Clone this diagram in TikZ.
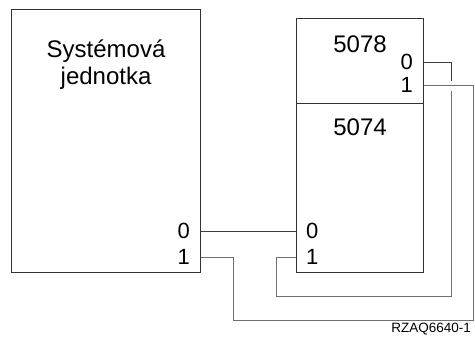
\documentclass[tikz,border=0pt]{standalone}
\usepackage{fontspec}
\setmainfont{Liberation Sans}
\usetikzlibrary{positioning,calc}
\definecolor{boxc}{HTML}{333333}
\definecolor{wirec}{HTML}{3C3C3C}
\definecolor{wiregc}{HTML}{707070}
\tikzset{
  unit/.style={draw=boxc,line width=1.1pt,fill=white,inner sep=0pt,anchor=north west},
  title/.style={font=\fontsize{24}{28}\selectfont,inner sep=0pt,anchor=base},
  lbl/.style={font=\fontsize{22}{26}\selectfont,inner sep=0pt},
  portl/.style={lbl,anchor=east},
  portr/.style={lbl,anchor=west},
  wire/.style={draw=wirec,line width=0.7pt},
  wireg/.style={draw=wiregc,line width=0.9pt},
  figid/.style={font=\fontsize{13.5}{15}\selectfont,inner sep=0pt,anchor=south east},
}
\begin{document}
\begin{tikzpicture}[x=1pt,y=-1pt]
  \useasboundingbox (0,0) rectangle (475,341);
  % skrine
  \node[unit,minimum width=189pt,minimum height=263pt] (sys) at (11,9) {};
  \node[unit,minimum width=127pt,minimum height=85pt] (u78) at (296,18) {};
  \node[unit,minimum width=127pt,minimum height=169pt] (u74) at (296,103) {};
  \node[title] (sys-name1) at (sys.north |- 0,57) {Systémová};
  \node[title] (sys-name2) at (sys.north |- 0,84) {jednotka};
  \node[title] (u78-name) at (u78.north |- 0,52) {5078};
  \node[title] (u74-name) at (u74.north |- 0,135) {5074};
  % porty
  \coordinate (sys-0) at (sys.east |- 0,231);
  \coordinate (sys-1) at (sys.east |- 0,257);
  \coordinate (u74-0) at (u74.west |- 0,231);
  \coordinate (u74-1) at (u74.west |- 0,257);
  \coordinate (u78-0) at (u78.east |- 0,62);
  \coordinate (u78-1) at (u78.east |- 0,85);
  \node[portl] (sys-l0) at ([xshift=-11pt]sys-0) {0};
  \node[portl] (sys-l1) at ([xshift=-11pt]sys-1) {1};
  \node[portr] (u74-l0) at ([xshift=10pt]u74-0) {0};
  \node[portr] (u74-l1) at ([xshift=10pt]u74-1) {1};
  \node[portl] (u78-l0) at ([xshift=-11pt]u78-0) {0};
  \node[portl] (u78-l1) at ([xshift=-11pt]u78-1) {1};
  % kabely
  \draw[wire] (sys-0) -- (u74-0);
  \draw[wireg] (sys-1) -- ++(32,0) -- ++(0,63) -| ([xshift=49pt]u78-1) -- (u78-1);
  \draw[wireg] (u74-1) -- ++(-20,0) -- ++(0,39) -| ([xshift=27pt,yshift=-6pt]u78-1);
  \draw[wire] (u78-0) -| ([xshift=27pt,yshift=4pt]u78-1);
  \node[figid] (fig-id) at (471,335) {RZAQ6640-1};
\end{tikzpicture}
\end{document}
